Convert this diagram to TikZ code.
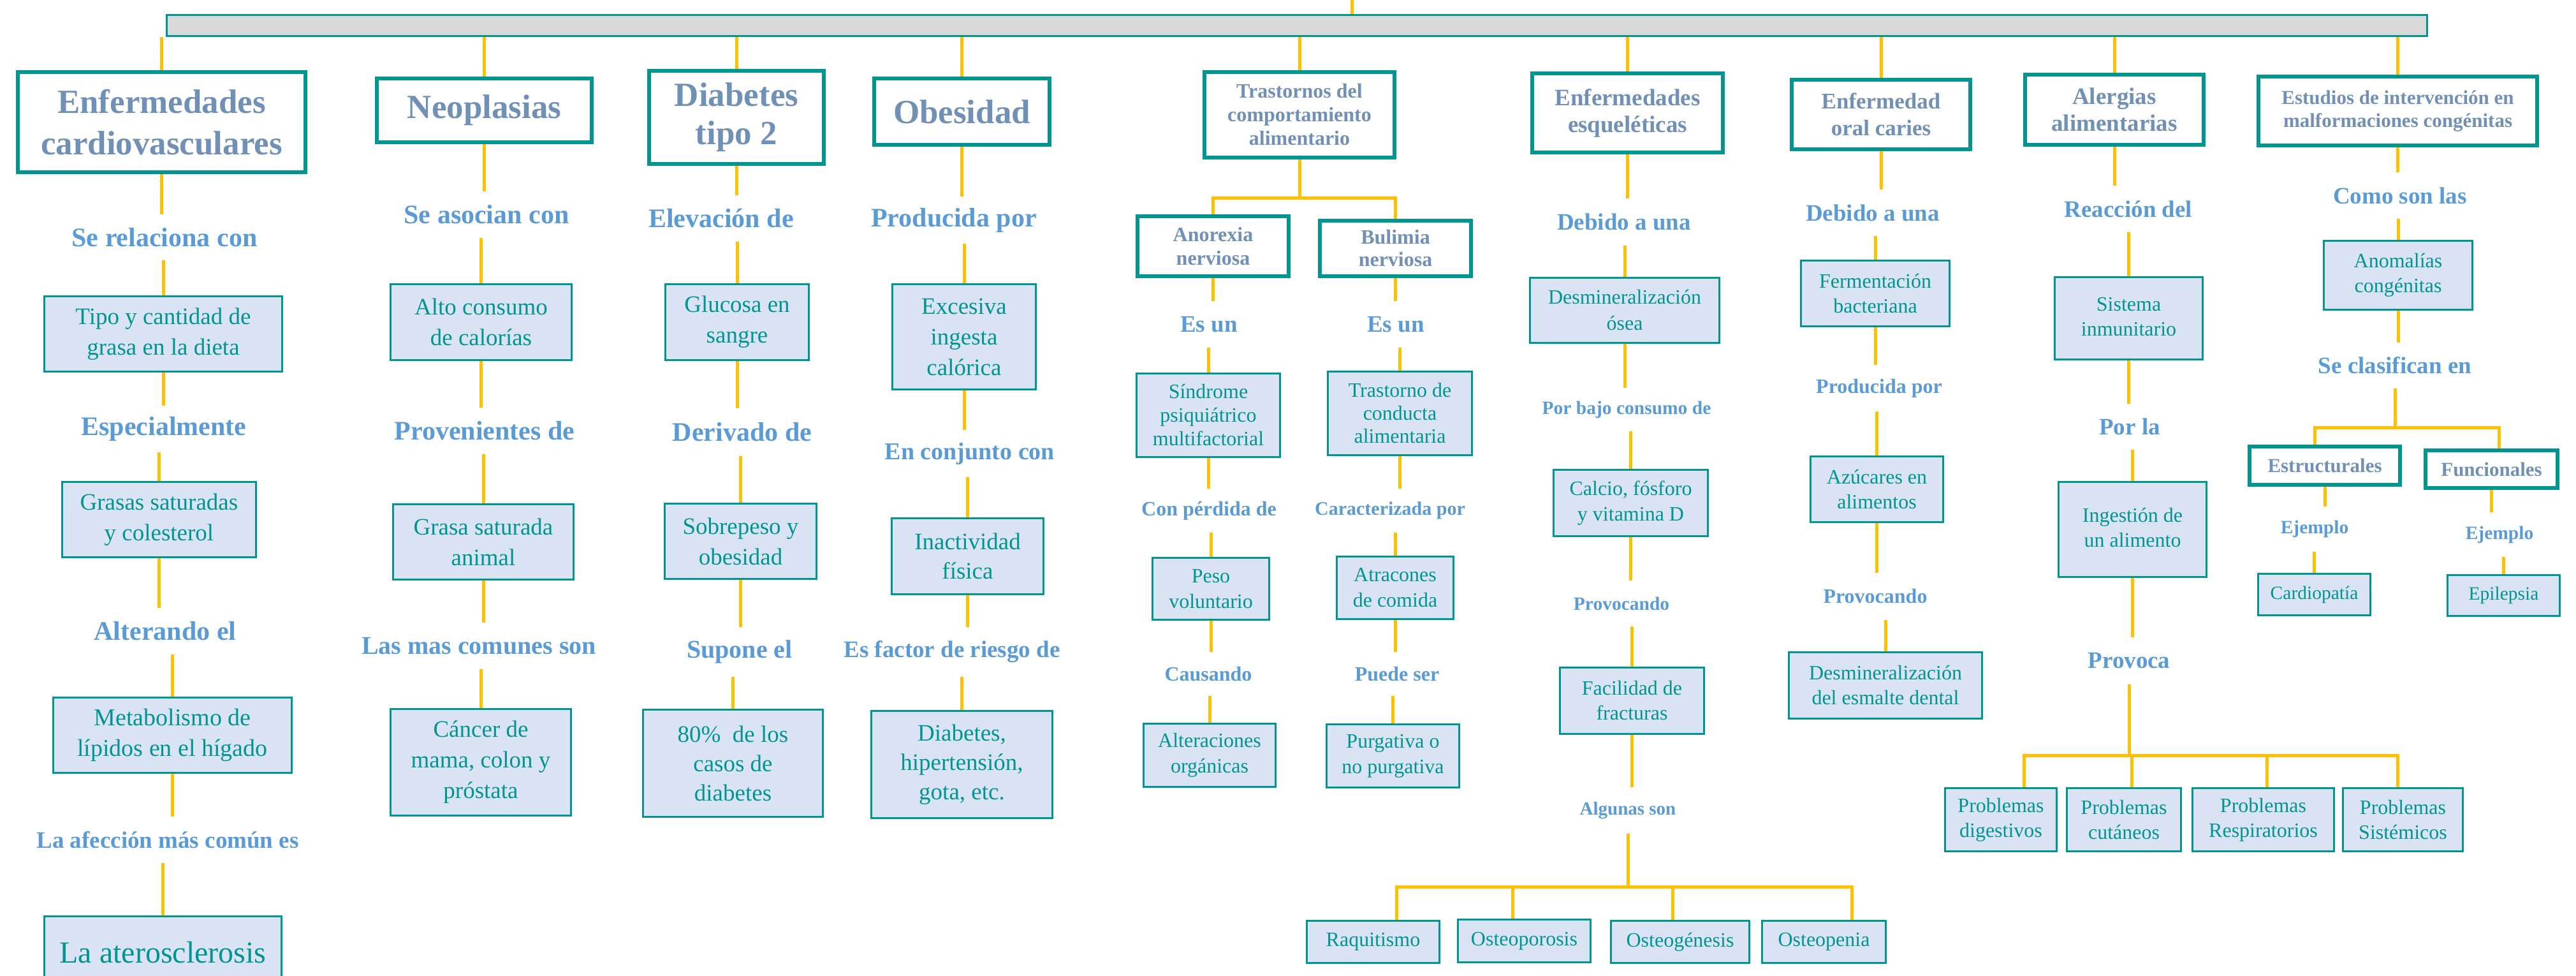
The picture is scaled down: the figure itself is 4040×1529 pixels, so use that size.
\documentclass[tikz,border=0pt]{standalone}
\usepackage{fontspec}
\setmainfont{Liberation Serif}
\newfontfamily\tnr{Liberation Serif}
\definecolor{tealc}{HTML}{009590}
\definecolor{boxf}{HTML}{DAE3F3}
\definecolor{lblc}{HTML}{5B9BD5}
\definecolor{hdrc}{HTML}{7190B5}
\definecolor{yel}{HTML}{FFC000}
\definecolor{barf}{HTML}{D9D9D9}
\pgfdeclarelayer{bg}
\pgfsetlayers{bg,main}
\newcommand\bxf[2]{\tnr\fontsize{#1}{#2}\selectfont}
\newcommand\hdf[2]{\tnr\fontsize{#1}{#2}\selectfont\bfseries}
\newcommand\lbf[1]{\tnr\fontsize{#1}{#1}\selectfont\bfseries}
\newcommand\twol[2]{\begin{tabular}{@{}c@{}}#1\\#2\end{tabular}}
\tikzset{
  hdr/.style={draw=tealc, line width=6pt, fill=white, text=hdrc, align=center, inner sep=0pt},
  bx/.style={draw=tealc, line width=3pt, fill=boxf, text=tealc, align=center, inner sep=0pt},
  lbl/.style={text=lblc, inner sep=0pt},
  conn/.style={draw=yel, line width=5pt},
}
% name, x1, x2, y1, y2, font, text
\newcommand\mkb[7]{\node[bx,font=#6,minimum width={#3-#2-3},minimum height={#5-#4-3}] (#1) at ({(#2+#3)/2},{(#4+#5)/2}) {#7};}
\newcommand\mkh[7]{\node[hdr,font=#6,minimum width={#3-#2-6},minimum height={#5-#4-6}] (#1) at ({(#2+#3)/2},{(#4+#5)/2}) {#7};}
% name, x, ytop, ybot, size, text
\newcommand\mkl[6]{\node[lbl,font=\lbf{#5},minimum height={#4-#3}] (#1) at (#2,{(#3+#4)/2}) {#6};}
\newcommand\cAL[2]{\draw[conn] (#1.south) -- (#1.south |- #2.north);}
\newcommand\cLB[2]{\draw[conn] (#2.north |- #1.south) -- (#2.north);}
\newcommand\cBar[1]{\draw[conn] (bar.south -| #1.north) -- (#1.north);}
\begin{document}
\begin{tikzpicture}[x=1pt,y=-1pt]
\useasboundingbox (0,0) rectangle (4040,1529);
\begin{pgfonlayer}{bg}
\fill[white] (0,0) rectangle (4040,1529);
\end{pgfonlayer}
\node[draw=tealc, line width=3pt, fill=barf, minimum width=3545, minimum height=33, inner sep=0pt] (bar) at (2034,39.5) {};
\coordinate (topc) at (2120,0);
% ---------- column 1
\mkh{H1}{25}{482}{110}{273}{\hdf{53}{65}}{Enfermedades\\cardiovasculares}
\mkl{L1a}{258}{336}{408}{42}{Se relaciona con}
\mkb{B1a}{68}{444}{463}{584}{\bxf{37}{48}}{Tipo y cantidad de\\grasa en la dieta}
\mkl{L1b}{257}{636}{709}{42}{Especialmente}
\mkb{B1b}{96}{403}{754}{875}{\bxf{37}{48}}{Grasas saturadas\\y colesterol}
\mkl{L1c}{259}{953}{1026}{42}{Alterando el}
\mkb{B1c}{82}{459}{1092}{1213}{\bxf{38}{48}}{Metabolismo de\\lípidos en el hígado}
\mkl{L1d}{263}{1280}{1353}{37}{La afección más común es}
\mkb{B1d}{68}{443}{1435}{1580}{\bxf{48}{56}}{\raisebox{30pt}{La aterosclerosis}}
% ---------- column 2
\mkh{H2}{588}{931}{120}{226}{\hdf{53}{65}}{Neoplasias}
\mkl{L2a}{763}{300}{373}{42}{Se asocian con}
\mkb{B2a}{611}{898}{444}{566}{\bxf{37}{48}}{Alto consumo\\de calorías}
\mkl{L2b}{760}{639}{712}{42}{Provenientes de}
\mkb{B2b}{615}{901}{789}{910}{\bxf{37}{48}}{Grasa saturada\\animal}
\mkl{L2c}{751}{976}{1049}{40}{Las mas comunes son}
\mkb{B2c}{611}{897}{1110}{1280}{\bxf{37}{48}}{Cáncer de\\mama, colon y\\próstata}
% ---------- column 3
\mkh{H3}{1015}{1295}{108}{260}{\hdf{53}{60}}{Diabetes\\tipo 2}
\mkl{L3a}{1131}{306}{379}{42}{Elevación de}
\mkb{B3a}{1042}{1270}{444}{566}{\bxf{37}{48}}{Glucosa en\\sangre}
\mkl{L3b}{1164}{640}{715}{42}{Derivado de}
\mkb{B3b}{1041}{1282}{788}{909}{\bxf{37}{48}}{Sobrepeso y\\obesidad}
\mkl{L3c}{1160}{983}{1061}{40}{Supone el}
\mkb{B3c}{1007}{1292}{1111}{1282}{\bxf{37}{46}}{80\%\ \ de los\\casos de\\diabetes}
% ---------- column 4
\mkh{H4}{1368}{1649}{120}{230}{\hdf{53}{60}}{Obesidad}
\mkl{L4a}{1496}{308}{382}{42}{Producida por}
\mkb{B4a}{1398}{1626}{444}{612}{\bxf{37}{48}}{Excesiva\\ingesta\\calórica}
\mkl{L4b}{1521}{674}{748}{38}{En conjunto con}
\mkb{B4b}{1397}{1638}{811}{933}{\bxf{37}{46}}{Inactividad\\física}
\mkl{L4c}{1493}{983}{1061}{37}{Es factor de riesgo de}
\mkb{B4c}{1365}{1652}{1113}{1284}{\bxf{37}{46}}{Diabetes,\\hipertensión,\\gota, etc.}
% ---------- column 5
\mkh{H5}{1886}{2190}{110}{250}{\hdf{32}{37}}{Trastornos del\\comportamiento\\alimentario}
\mkh{H5a}{1781}{2024}{336}{436}{\hdf{32}{37}}{Anorexia\\nerviosa}
\mkh{H5b}{2067}{2310}{343}{436}{\hdf{32}{35}}{Bulimia\\nerviosa}
\mkl{L5a}{1896}{472}{545}{37}{Es un}
\mkb{B5a}{1781}{2009}{584}{718}{\bxf{32}{37}}{Síndrome\\psiquiátrico\\multifactorial}
\mkl{L5b}{1896}{766}{835}{32}{Con pérdida de}
\mkb{B5b}{1806}{1992}{873}{973}{\bxf{32}{40}}{Peso\\voluntario}
\mkl{L5c}{1895}{1022}{1091}{32}{Causando}
\mkb{B5c}{1792}{2002}{1133}{1235}{\bxf{32}{40}}{Alteraciones\\orgánicas}
\mkl{L5d}{2189}{472}{545}{37}{Es un}
\mkb{B5d}{2081}{2310}{581}{715}{\bxf{32}{36}}{Trastorno de\\conducta\\alimentaria}
\mkl{L5e}{2180}{766}{835}{30}{Caracterizada por}
\mkb{B5e}{2095}{2281}{871}{972}{\bxf{32}{40}}{Atracones\\de comida}
\mkl{L5f}{2191}{1022}{1091}{32}{Puede ser}
\mkb{B5f}{2079}{2290}{1134}{1236}{\bxf{32}{40}}{Purgativa o\\no purgativa}
% ---------- column 6
\mkh{H6}{2400}{2705}{112}{242}{\hdf{37}{42}}{Enfermedades\\esqueléticas}
\mkl{L6a}{2547}{311}{385}{37}{Debido a una}
\mkb{B6a}{2398}{2698}{434}{539}{\bxf{32}{41}}{Desmineralización\\ósea}
\mkl{L6b}{2551}{608}{676}{29.5}{Por bajo consumo de}
\mkb{B6b}{2435}{2680}{735}{842}{\bxf{32}{40}}{Calcio, fósforo\\y vitamina D}
\mkl{L6c}{2543}{910}{982}{29.5}{Provocando}
\mkb{B6c}{2445}{2674}{1045}{1152}{\bxf{32}{39}}{Facilidad de\\fracturas}
\mkl{L6d}{2553}{1234}{1307}{29}{Algunas son}
\mkb{raq}{2048}{2259}{1442}{1511}{\bxf{32}{38}}{Raquitismo}
\mkb{opor}{2285}{2496}{1440}{1510}{\bxf{32}{38}}{Osteoporosis}
\mkb{ogen}{2525}{2745}{1442}{1511}{\bxf{32}{38}}{Osteogénesis}
\mkb{open}{2762}{2959}{1442}{1511}{\bxf{32}{38}}{Osteopenia}
% ---------- column 7
\mkh{H7}{2807}{3093}{122}{237}{\hdf{35}{42}}{Enfermedad\\oral caries}
\mkl{L7a}{2937}{297}{370}{37}{Debido a una}
\mkb{B7a}{2823}{3059}{407}{513}{\bxf{32}{39}}{Fermentación\\bacteriana}
\mkl{L7b}{2947}{572}{645}{32}{Producida por}
\mkb{B7b}{2838}{3049}{714}{820}{\bxf{32}{39}}{Azúcares en\\alimentos}
\mkl{L7c}{2941}{898}{972}{32}{Provocando}
\mkb{B7c}{2804}{3110}{1021}{1128}{\bxf{32}{39}}{Desmineralización\\del esmalte dental}
% ---------- column 8
\mkh{H8}{3173}{3459}{114}{230}{\hdf{37}{42}}{Alergias\\alimentarias}
\mkl{L8a}{3338}{291}{364}{37}{Reacción del}
\mkb{B8a}{3221}{3456}{433}{565}{\bxf{32}{39}}{\raisebox{8pt}{\twol{Sistema}{inmunitario}}}
\mkl{L8b}{3340}{633}{705}{37}{Por la}
\mkb{B8b}{3227}{3462}{754}{906}{\bxf{32}{39}}{\raisebox{8pt}{\twol{Ingestión de}{un alimento}}}
\mkl{L8c}{3339}{999}{1073}{37}{Provoca}
\mkb{pdig}{3049}{3227}{1234}{1336}{\bxf{32}{39}}{Problemas\\digestivos}
\mkb{pcut}{3240}{3422}{1234}{1336}{\bxf{32}{39}}{Problemas\\cutáneos}
\mkb{pres}{3437}{3662}{1234}{1336}{\bxf{32}{39}}{Problemas\\Respiratorios}
\mkb{psis}{3673}{3864}{1234}{1336}{\bxf{32}{39}}{Problemas\\Sistémicos}
% ---------- column 9
\mkh{H9}{3539}{3982}{117}{231}{\hdf{31}{36}}{Estudios de intervención en\\malformaciones congénitas}
\mkl{L9a}{3764}{270}{343}{37}{Como son las}
\mkb{B9a}{3643}{3879}{376}{487}{\bxf{32}{39}}{Anomalías\\congénitas}
\mkl{L9b}{3756}{537}{609}{37}{Se clasifican en}
\mkh{est}{3525}{3767}{697}{763}{\hdf{31}{36}}{Estructurales}
\mkh{fun}{3801}{4014}{703}{768}{\hdf{31}{36}}{Funcionales}
\mkl{L9c}{3630}{794}{865}{29.5}{Ejemplo}
\mkb{card}{3540}{3719}{898}{966}{\bxf{29.5}{36}}{Cardiopatía}
\mkl{L9d}{3920}{803}{873}{29.5}{Ejemplo}
\mkb{epil}{3837}{4016}{900}{967}{\bxf{29.5}{36}}{Epilepsia}
% ---------- connectors
\begin{pgfonlayer}{bg}
\draw[conn] (topc) -- (topc |- bar.north);
\cBar{H1}\cBar{H2}\cBar{H3}\cBar{H4}\cBar{H5}\cBar{H6}\cBar{H7}\cBar{H8}\cBar{H9}
% col 1
\cAL{H1}{L1a}\cLB{L1a}{B1a}\cAL{B1a}{L1b}\cLB{L1b}{B1b}\cAL{B1b}{L1c}\cLB{L1c}{B1c}\cAL{B1c}{L1d}\cLB{L1d}{B1d}
% col 2
\cAL{H2}{L2a}\cLB{L2a}{B2a}\cAL{B2a}{L2b}\cLB{L2b}{B2b}\cAL{B2b}{L2c}\cLB{L2c}{B2c}
% col 3
\cAL{H3}{L3a}\cLB{L3a}{B3a}\cAL{B3a}{L3b}\cLB{L3b}{B3b}\cAL{B3b}{L3c}\cLB{L3c}{B3c}
% col 4
\cAL{H4}{L4a}\cLB{L4a}{B4a}\cAL{B4a}{L4b}\cLB{L4b}{B4b}\cAL{B4b}{L4c}\cLB{L4c}{B4c}
% col 5
\draw[conn] (H5.south) -- ++(0,60) coordinate (tj);
\draw[conn] (H5a.north) |- (tj) -| (H5b.north);
\cAL{H5a}{L5a}\cLB{L5a}{B5a}\cAL{B5a}{L5b}\cLB{L5b}{B5b}\cAL{B5b}{L5c}\cLB{L5c}{B5c}
\cAL{H5b}{L5d}\cLB{L5d}{B5d}\cAL{B5d}{L5e}\cLB{L5e}{B5e}\cAL{B5e}{L5f}\cLB{L5f}{B5f}
% col 6
\cAL{H6}{L6a}\cLB{L6a}{B6a}\cAL{B6a}{L6b}\cLB{L6b}{B6b}\cAL{B6b}{L6c}\cLB{L6c}{B6c}\cAL{B6c}{L6d}
\draw[conn] (L6d.south) -- ++(0,83) coordinate (ej);
\draw[conn] ([xshift=37pt]raq.north) |- ([xshift=44pt]open.north |- ej) -- ([xshift=44pt]open.north);
\draw[conn] ([xshift=-18pt]opor.north) -- ([xshift=-18pt]opor.north |- ej);
\draw[conn] ([xshift=-12pt]ogen.north) -- ([xshift=-12pt]ogen.north |- ej);
% col 7
\cAL{H7}{L7a}\cLB{L7a}{B7a}\cAL{B7a}{L7b}\cLB{L7b}{B7b}\cAL{B7b}{L7c}\cLB{L7c}{B7c}
% col 8
\cAL{H8}{L8a}\cLB{L8a}{B8a}\cAL{B8a}{L8b}\cLB{L8b}{B8b}\cAL{B8b}{L8c}
\draw[conn] (L8c.south) -- ++(0,111) coordinate (aj);
\draw[conn] ([xshift=36pt]pdig.north) |- ([xshift=-8pt]psis.north |- aj) -- ([xshift=-8pt]psis.north);
\draw[conn] ([xshift=12pt]pcut.north) -- ([xshift=12pt]pcut.north |- aj);
\draw[conn] ([xshift=6pt]pres.north) -- ([xshift=6pt]pres.north |- aj);
% col 9
\cAL{H9}{L9a}\cLB{L9a}{B9a}\cAL{B9a}{L9b}
\draw[conn] (L9b.south) -- ++(0,61) coordinate (sj);
\draw[conn] ([xshift=-16pt]est.north) |- ([xshift=12pt]fun.north |- sj) -- ([xshift=12pt]fun.north);
\draw[conn] (est.south) -- (est.south |- L9c.north);
\draw[conn] (card.north |- L9c.south) -- (card.north);
\draw[conn] (fun.south) -- (fun.south |- L9d.north);
\draw[conn] (epil.north |- L9d.south) -- (epil.north);
\end{pgfonlayer}
\end{tikzpicture}
\end{document}
